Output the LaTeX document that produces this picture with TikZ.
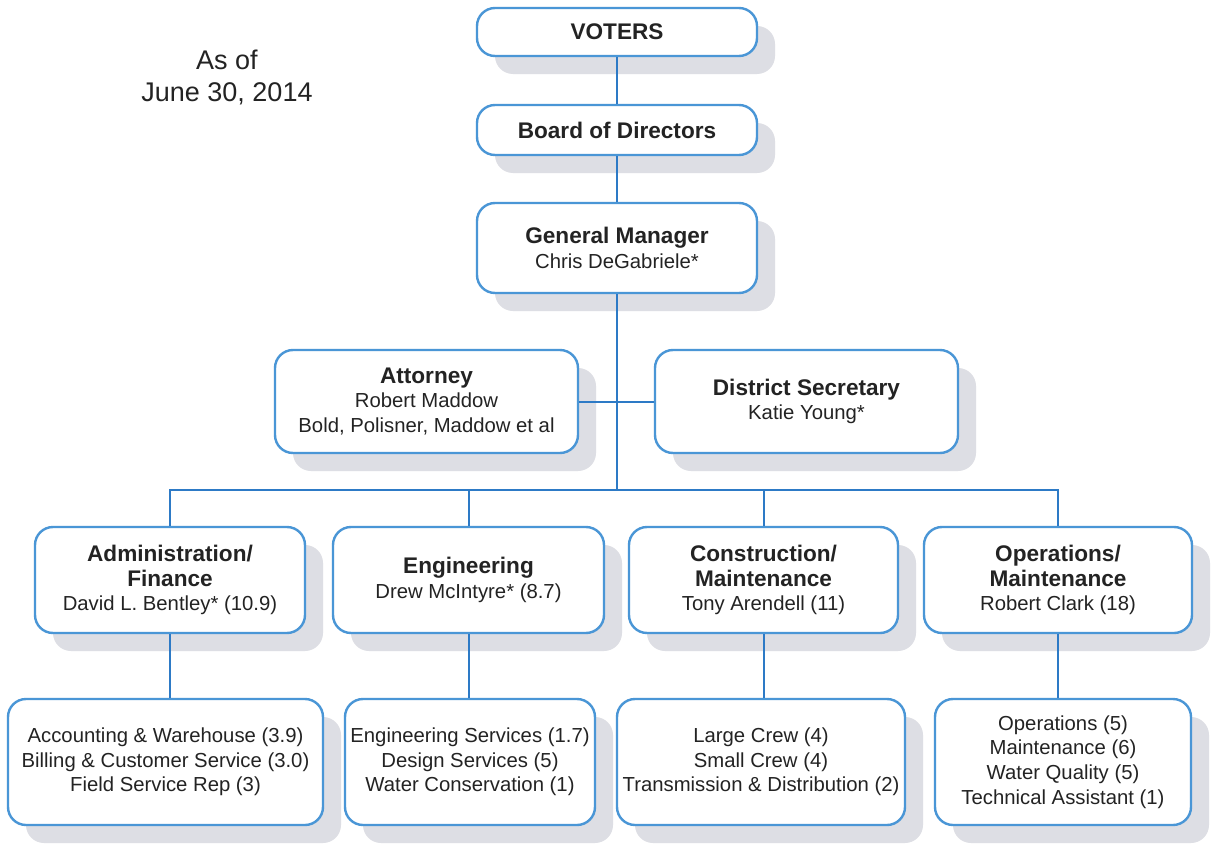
\documentclass[tikz,border=0pt]{standalone}
\usepackage{fontspec}
\setmainfont{Liberation Sans}
\usetikzlibrary{shadows}
\definecolor{boxblue}{RGB}{74,150,214}
\definecolor{lineblue}{RGB}{45,122,198}
\definecolor{shadowgray}{RGB}{221,222,228}
\definecolor{txt}{RGB}{35,35,35}
\newcommand{\hd}[1]{{\fontsize{11.3}{12.3}\selectfont\bfseries #1}}
\begin{document}
\begin{tikzpicture}[x=0.5pt,y=-0.5pt,
  orgbox/.style={draw=boxblue, line width=1.2pt, fill=white, rounded corners=9pt,
    align=center, text=txt, inner sep=0pt,
    font=\fontsize{10.15}{12.3}\selectfont,
    drop shadow={shadow xshift=9pt, shadow yshift=-9pt, fill=shadowgray, opacity=1}},
  conn/.style={draw=lineblue, line width=1pt}]
\useasboundingbox (0,0) rectangle (1211,846);
\fill[white] (0,0) rectangle (1211,846);

\node[text=txt, align=center, font=\fontsize{13.5}{16}\selectfont] (asof) at (227,77) {As of\\June 30, 2014};

\node[orgbox, minimum width=140pt, minimum height=24pt] (voters) at (617,32) {\hd{VOTERS}};
\node[orgbox, minimum width=140pt, minimum height=25pt] (board) at (617,130) {\hd{Board of Directors}};
\node[orgbox, minimum width=140pt, minimum height=45pt] (gm) at (617,248) {\hd{General Manager}\\Chris DeGabriele*};

\node[orgbox, minimum width=151.5pt, minimum height=51.5pt] (att) at (426.5,401.5) {\hd{Attorney}\\Robert Maddow\\Bold, Polisner, Maddow et al};
\node[orgbox, minimum width=151.5pt, minimum height=51.5pt] (sec) at (806.5,401.5) {\hd{District Secretary}\\Katie Young*};

\node[orgbox, minimum width=135pt, minimum height=53pt] (adm) at (170,580) {\hd{Administration/}\\\hd{Finance}\\David L. Bentley* (10.9)};
\node[orgbox, minimum width=135.5pt, minimum height=53pt] (eng) at (468.5,580) {\hd{Engineering}\\Drew McIntyre* (8.7)};
\node[orgbox, minimum width=134.5pt, minimum height=53pt] (con) at (763.5,580) {\hd{Construction/}\\\hd{Maintenance}\\Tony Arendell (11)};
\node[orgbox, minimum width=134pt, minimum height=53pt] (ops) at (1058,580) {\hd{Operations/}\\\hd{Maintenance}\\Robert Clark (18)};

\node[orgbox, minimum width=157.5pt, minimum height=63pt] (admsub) at (165.5,762) {Accounting \& Warehouse (3.9)\\Billing \& Customer Service (3.0)\\Field Service Rep (3)};
\node[orgbox, minimum width=125pt, minimum height=63pt] (engsub) at (470,762) {Engineering Services (1.7)\\Design Services (5)\\Water Conservation (1)};
\node[orgbox, minimum width=144pt, minimum height=63pt] (consub) at (761,762) {Large Crew (4)\\Small Crew (4)\\Transmission \& Distribution (2)};
\node[orgbox, minimum width=128pt, minimum height=63pt] (opssub) at (1063,762) {Operations (5)\\Maintenance (6)\\Water Quality (5)\\Technical Assistant (1)};

\coordinate (bus) at (617,490);

\draw[conn] (voters.south) -- (board.north);
\draw[conn] (board.south) -- (gm.north);
\draw[conn] (gm.south) -- (bus);
\draw[conn] (att.east) -- (sec.west);
\draw[conn] (adm.north) |- (bus) -| (ops.north);
\draw[conn] (eng.north) -- (eng.north |- bus);
\draw[conn] (con.north) -- (con.north |- bus);
\draw[conn] (adm.south) -- (adm.south |- admsub.north);
\draw[conn] (eng.south) -- (eng.south |- engsub.north);
\draw[conn] (con.south) -- (con.south |- consub.north);
\draw[conn] (ops.south) -- (ops.south |- opssub.north);
\end{tikzpicture}
\end{document}
